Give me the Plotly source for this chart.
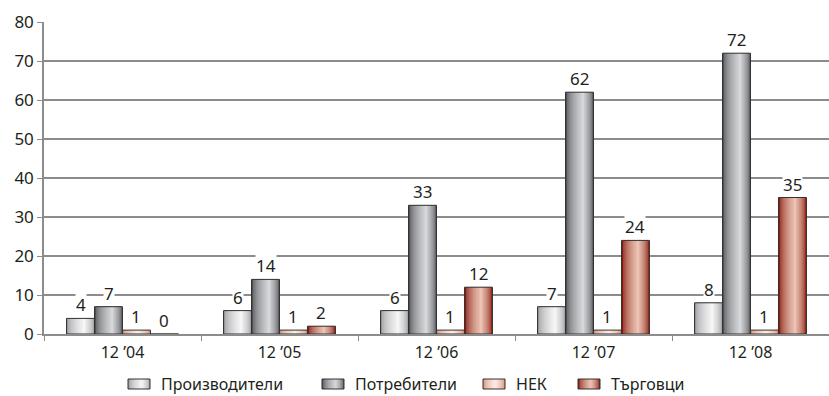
import plotly.graph_objects as go

# Categories and series
periods = ["12 ’04", "12 ’05", "12 ’06", "12 ’07", "12 ’08"]
series_names = ["Производители", "Потребители", "НЕК", "Търговци"]
producers = [4, 6, 6, 7, 8]
consumers = [7, 14, 33, 62, 72]
nek = [1, 1, 1, 1, 1]
traders = [0, 2, 12, 24, 35]
series_values = [producers, consumers, nek, traders]

y_ticks = [0, 10, 20, 30, 40, 50, 60, 70, 80]

# Cylinder-style shading: colour at the bar edge, colour at the highlight
shading = [
    ((150, 152, 155), (246, 246, 247)),
    ((78, 80, 83), (214, 216, 219)),
    ((214, 140, 118), (252, 236, 228)),
    ((132, 22, 10), (236, 196, 180)),
]
highlight_pos = [0.62, 0.62, 0.55, 0.58]

FONT = "Noto Sans"
TEXT = "#231f20"
AXIS = "#8c8c8c"
OUTLINE = "#333333"
GROUP = 0.713
BAR_W = GROUP / 4
N_LAYERS = 12

W, H = 829, 396
M_L, M_R, M_T, M_B = 44, 0, 22, 62
PLOT_W, PLOT_H = W - M_L - M_R, H - M_T - M_B


def mix(c0, c1, t):
    return "rgb(%d,%d,%d)" % tuple(round(a + (b - a) * t) for a, b in zip(c0, c1))


def layers(p):
    """Nested (start, end, colour-weight) fractions for the shaded fill."""
    out = []
    for k in range(N_LAYERS):
        t = k / (N_LAYERS - 1)
        out.append((p * t * 0.97, 1 - (1 - p) * t * 0.97, t ** 0.55))
    return out


def px_x(px):
    return (px - M_L) / PLOT_W


def px_y(py):
    return (H - M_B - py) / PLOT_H


fig = go.Figure()

for i, (name, vals) in enumerate(zip(series_names, series_values)):
    left = -GROUP / 2 + i * BAR_W
    edge, light = shading[i]
    for a, b, t in layers(highlight_pos[i]):
        fig.add_trace(go.Bar(
            x=periods, y=vals,
            offset=left + a * BAR_W, width=(b - a) * BAR_W,
            marker=dict(color=mix(edge, light, t), line=dict(width=0)),
            name=name, showlegend=False, hoverinfo="skip",
        ))
    # thin dark outline on top of the shaded layers
    fig.add_trace(go.Bar(
        x=periods, y=vals, offset=left, width=BAR_W,
        marker=dict(color="rgba(0,0,0,0)", line=dict(color=OUTLINE, width=1)),
        name=name, showlegend=False,
    ))
    # value labels above each bar
    for ci, v in enumerate(vals):
        fig.add_annotation(
            x=ci + left + BAR_W / 2, y=v, xref="x", yref="y",
            text=str(v), showarrow=False, yanchor="bottom", yshift=1,
            bgcolor="white", borderpad=0,
            font=dict(family=FONT, size=17, color=TEXT),
        )

# Legend row: shaded swatch + label for each series
legend_x = [128, 322, 483, 578]
SW_W, SW_Y0, SW_Y1 = 22, 379, 389
for i, name in enumerate(series_names):
    edge, light = shading[i]
    x0 = legend_x[i]
    for a, b, t in layers(highlight_pos[i]):
        fig.add_shape(
            type="rect", xref="paper", yref="paper",
            x0=px_x(x0 + a * SW_W), x1=px_x(x0 + b * SW_W),
            y0=px_y(SW_Y1), y1=px_y(SW_Y0),
            fillcolor=mix(edge, light, t), line=dict(width=0), layer="above",
        )
    fig.add_shape(
        type="rect", xref="paper", yref="paper",
        x0=px_x(x0), x1=px_x(x0 + SW_W), y0=px_y(SW_Y1), y1=px_y(SW_Y0),
        fillcolor="rgba(0,0,0,0)", line=dict(color=OUTLINE, width=1), layer="above",
    )
    fig.add_annotation(
        x=px_x(x0 + SW_W + 9), y=px_y((SW_Y0 + SW_Y1) / 2),
        xref="paper", yref="paper", xanchor="left", yanchor="middle",
        text=name, showarrow=False,
        font=dict(family=FONT, size=16, color=TEXT),
    )

fig.update_layout(
    width=W, height=H,
    margin=dict(l=M_L, r=M_R, t=M_T, b=M_B, autoexpand=False),
    barmode="overlay",
    paper_bgcolor="white", plot_bgcolor="white",
    font=dict(family=FONT, size=16, color=TEXT),
    showlegend=False,
)

fig.update_xaxes(
    type="category", categoryorder="array", categoryarray=periods,
    range=[-0.5, 4.5],
    showline=True, linecolor=AXIS, linewidth=1.5,
    ticks="outside", tickson="boundaries", ticklen=5, tickcolor=AXIS,
    ticklabelstandoff=3,
    showgrid=False,
    tickfont=dict(family=FONT, size=16, color=TEXT),
)
fig.update_yaxes(
    range=[0, 80], tickvals=y_ticks,
    showline=True, linecolor=AXIS, linewidth=1.5,
    ticks="outside", ticklen=5, tickcolor=AXIS,
    showgrid=True, gridcolor=AXIS, gridwidth=1.5,
    zeroline=False,
    tickfont=dict(family=FONT, size=17, color=TEXT),
)

fig.write_html("out.html")
